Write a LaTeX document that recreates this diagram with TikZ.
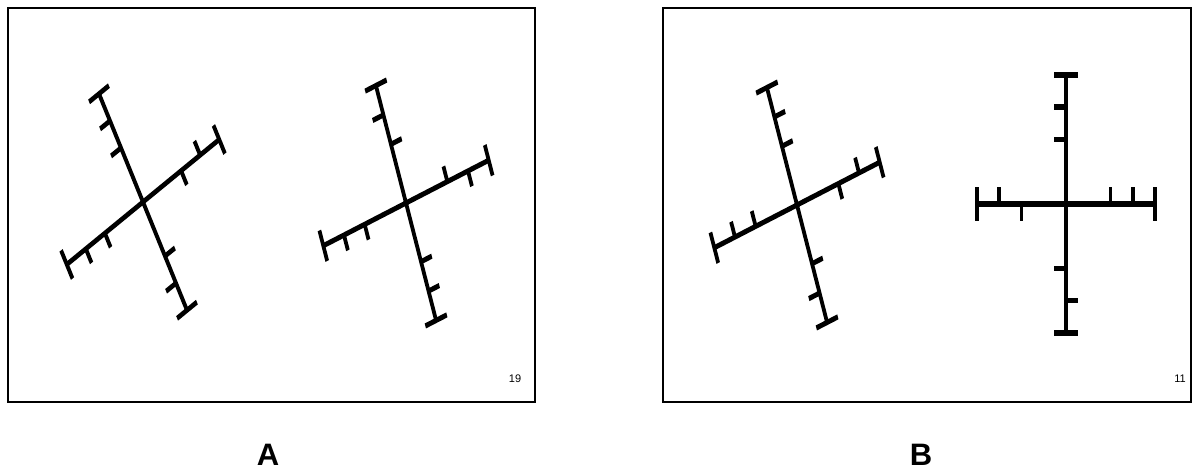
\documentclass[tikz,border=0pt]{standalone}
\usepackage{fontspec}
\setmainfont{Liberation Sans}
\tikzset{
  axisbar/.style={
    fill=black,
  },
  panelframe/.style={
    draw,
    line width=1.6pt,
  },
  pagenum/.style={
    font=\fontsize{11}{13}\selectfont,
    inner sep=0pt,
  },
  panellabel/.style={
    font=\fontsize{31}{34}\selectfont\bfseries,
    inner sep=0pt,
  }
}
% one arm of a cross: angle, side of tick at 1/2, side of tick at 3/4
\newcommand{\crossarm}[3]{%
  \begin{scope}[rotate=#1]
    \fill[axisbar] (-\halfw,-\halfw) rectangle (1,\halfw);
    \fill[axisbar] (1-\halfw,-\ticklen) rectangle (1+\halfw,\ticklen);
    \fill[axisbar] (0.5-\halfw,0) rectangle (0.5+\halfw,#2*\ticklen);
    \fill[axisbar] (0.75-\halfw,0) rectangle (0.75+\halfw,#3*\ticklen);
  \end{scope}
}

\begin{document}
\begin{tikzpicture}[x=1pt,y=1pt]
\def\ticklen{0.13}
\def\halfw{0.021}
\useasboundingbox (0,0) rectangle (1197,471);

\draw[panelframe] (8,463) rectangle (535,69);
\draw[panelframe] (663,463) rectangle (1191,69);

% panel A
\begin{scope}[shift={(143,269)}, yscale=1.42, rotate=30, scale=88]
  \crossarm{0}{-1}{1}
  \crossarm{90}{1}{1}
  \crossarm{180}{1}{1}
  \crossarm{270}{1}{-1}
\end{scope}

\begin{scope}[shift={(406,268)}, yscale=1.42, rotate=20, scale=88]
  \crossarm{0}{1}{-1}
  \crossarm{90}{-1}{1}
  \crossarm{180}{1}{1}
  \crossarm{270}{1}{1}
\end{scope}

% panel B
\begin{scope}[shift={(797,266)}, yscale=1.42, rotate=20, scale=88]
  \crossarm{0}{-1}{1}
  \crossarm{90}{-1}{-1}
  \crossarm{180}{-1}{-1}
  \crossarm{270}{1}{-1}
\end{scope}

\begin{scope}[shift={(1066,267)}, yscale=1.45, scale=89]
  \crossarm{0}{1}{1}
  \crossarm{90}{1}{1}
  \crossarm{180}{1}{-1}
  \crossarm{270}{-1}{1}
\end{scope}

\node[pagenum] (numA) at (515,92) {19};
\node[pagenum] (numB) at (1180,92) {11};

\node[panellabel] (labA) at (268,16) {A};
\node[panellabel] (labB) at (921,16) {B};

\end{tikzpicture}
\end{document}
